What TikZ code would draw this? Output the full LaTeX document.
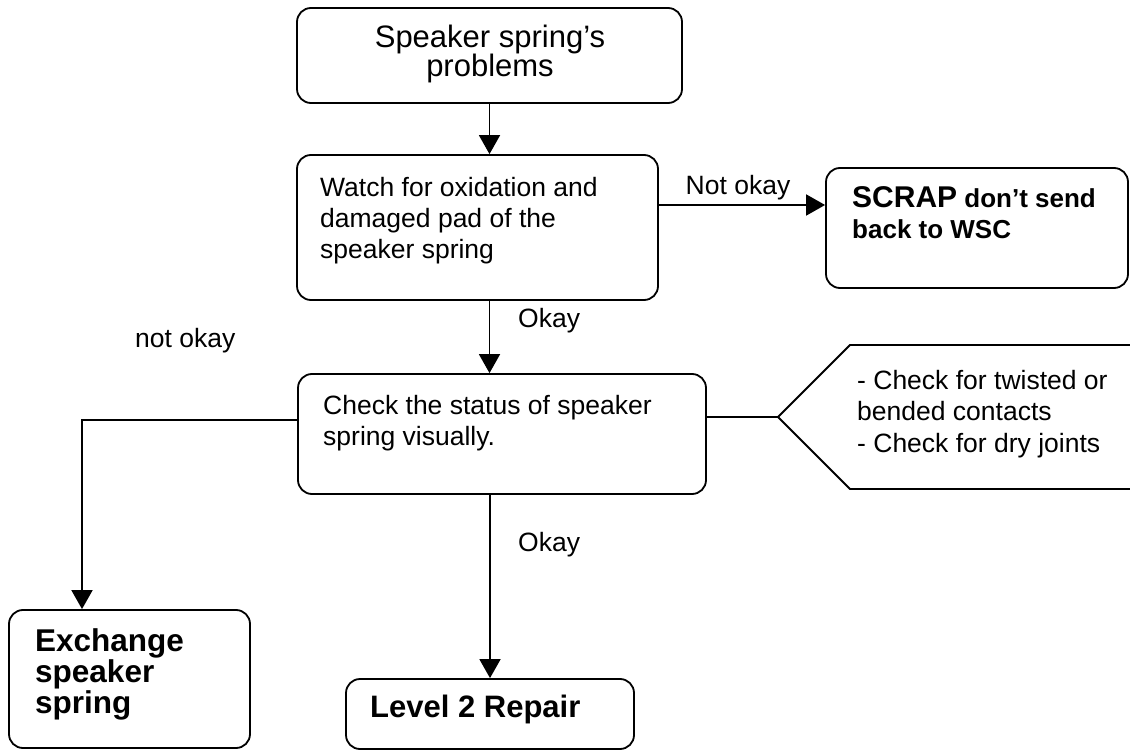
\documentclass[tikz,border=0pt]{standalone}
\usepackage{fontspec}
\setmainfont{Liberation Sans}
\usetikzlibrary{arrows.meta,calc}
\tikzset{
  box/.style={draw, line width=1.8pt, rounded corners=14pt, inner sep=0pt},
  txt/.style={inner sep=0pt, align=left, anchor=base west},
  body/.style={font=\fontsize{26.5}{31}\selectfont},
  bodybold/.style={font=\fontsize{26}{31}\selectfont\bfseries},
  bigbold/.style={font=\fontsize{31.5}{31}\selectfont\bfseries},
  conn/.style={line width=1.8pt},
  arr/.style={conn, -{Triangle[length=19pt,width=21pt]}},
}
\begin{document}
\begin{tikzpicture}[x=1pt,y=-1pt]
\useasboundingbox (0,0) rectangle (1130,751);
% boxes
\node[box, minimum width=385pt, minimum height=95pt]  (top)   at (489.5,55.5) {};
\node[box, minimum width=361pt, minimum height=145pt] (watch) at (477.5,227.5) {};
\node[box, minimum width=302pt, minimum height=120pt] (scrap) at (977,228) {};
\node[box, minimum width=408pt, minimum height=120pt] (check) at (502,434) {};
\node[box, minimum width=241pt, minimum height=138pt] (exch)  at (129.5,679) {};
\node[box, minimum width=288pt, minimum height=70pt]  (level) at (490,714) {};
% callout shape
\coordinate (tip) at (778,417);
\draw[conn, line join=miter] (1145,345) -- (850,345) -- (tip) -- (850,489) -- (1145,489);
% texts (base anchor = baseline of last line)
\node[txt, align=center, anchor=base, font=\fontsize{31}{29}\selectfont] (toptext) at (490,77) {Speaker spring’s\\problems};
\node[txt, body] (watchtext) at (320,259) {Watch for oxidation and\\damaged pad of the\\speaker spring};
\node[txt, body, anchor=base] (lblnot1) at (738,195) {Not okay};
\node[txt, bodybold] (scraptext) at (852,239) {{\fontsize{30}{31}\selectfont SCRAP} don’t send\\back to WSC};
\node[txt, body] (lblok1) at (518,327) {Okay};
\node[txt, body] (lblnot2) at (135,348) {not okay};
\node[txt, body] (checktext) at (323,445) {Check the status of speaker\\spring visually.};
\node[txt, font=\fontsize{26.5}{31.5}\selectfont] (calltext) at (857,452) {- Check for twisted or\\bended contacts\\- Check for dry joints};
\node[txt, body] (lblok2) at (518,551) {Okay};
\node[txt, bigbold] (exchtext) at (35,713) {Exchange\\speaker\\spring};
\node[txt, font=\fontsize{31}{31}\selectfont\bfseries] (leveltext) at (370,717) {Level 2 Repair};
% connectors
\draw[arr] (top.south) -- (top.south |- watch.north);
\draw[arr] (watch.east |- scrap.west) ++(0,-23) coordinate (w1) -- (w1 -| scrap.west);
\draw[arr] (top.south |- watch.south) -- (top.south |- check.north);
\coordinate (c1) at ($(check.west |- tip)+(0,3)$);
\draw[arr] (c1) -- (82,420) -- (82,420 |- exch.north);
\draw[line width=2pt] (check.east |- tip) -- (tip);
\draw[arr] (level.north |- check.south) -- (level.north);
\end{tikzpicture}
\end{document}
